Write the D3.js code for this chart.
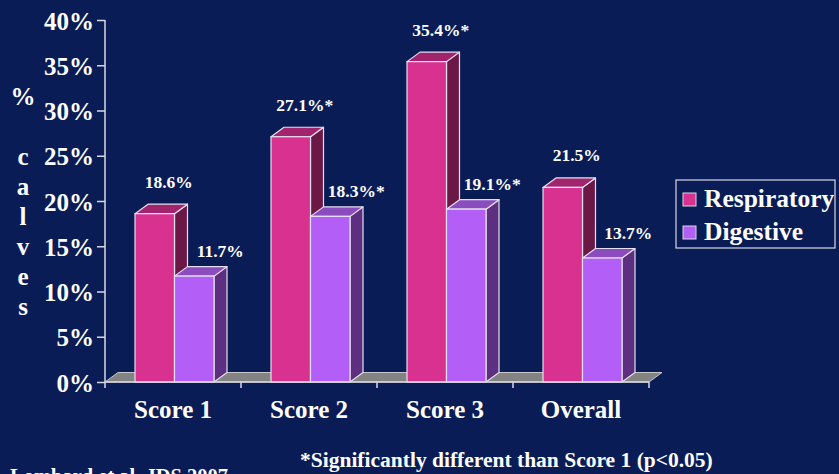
<!DOCTYPE html>
<html><head><meta charset="utf-8">
<script src="https://cdn.jsdelivr.net/npm/d3@7/dist/d3.min.js"></script>
<style>
html,body{margin:0;padding:0;background:#0a1c55;overflow:hidden;}
text{font-family:"Liberation Serif","Times New Roman",serif;font-weight:bold;fill:#ffffff;}
</style></head>
<body>
<svg id="c" width="839" height="474"></svg>
<script>
const categories = ["Score 1", "Score 2", "Score 3", "Overall"];
const series = ["Respiratory", "Digestive"];
const respiratory = [18.6, 27.1, 35.4, 21.5];
const digestive = [11.7, 18.3, 19.1, 13.7];
const respLabels = ["18.6%", "27.1%*", "35.4%*", "21.5%"];
const digLabels = ["11.7%", "18.3%*", "19.1%*", "13.7%"];
const yTicks = [0, 5, 10, 15, 20, 25, 30, 35, 40];
const yTitle = ["%", "", "c", "a", "l", "v", "e", "s"];
const footnote = "*Significantly different than Score 1 (p<0.05)";
const source = "Lombard et al. JDS 2007";

const svg = d3.select("#c");
svg.append("rect").attr("width", 839).attr("height", 474).attr("fill", "#0a1c55");

const x = d3.scaleBand().domain(categories).range([105, 649]);
const xs = d3.scaleBand().domain(series).range([30, 109]);
const y = d3.scaleLinear().domain([0, 40]).range([382, 20]);
const DX = 13, DY = -9.5;
const colors = {
  Respiratory: {front: "#d93190", top: "#a3246e", side: "#6c1846"},
  Digestive: {front: "#b35ef6", top: "#8b4cbf", side: "#5c2f80"}
};
const edge = "#e6e0ee";

// floor
const x0 = x.range()[0], x1 = x.range()[1];
svg.append("path")
  .attr("d", `M${x0},${y(0)} L${x0+DX},${y(0)+DY} L${x1+DX},${y(0)+DY} L${x1},${y(0)} Z`)
  .attr("fill", "#838383").attr("stroke", "#c8c8c8").attr("stroke-width", 1);

// bars
const data = categories.map((c, i) => ({c, vals: [respiratory[i], digestive[i]], labels: [respLabels[i], digLabels[i]]}));
data.forEach(d => {
  series.forEach((s, j) => {
    const v = d.vals[j];
    const bx = x(d.c) + xs(s), bw = xs.bandwidth();
    const top = y(v), bot = y(0);
    const g = svg.append("g");
    g.append("path").attr("d", `M${bx+bw},${top} L${bx+bw+DX},${top+DY} L${bx+bw+DX},${bot+DY} L${bx+bw},${bot} Z`)
      .attr("fill", colors[s].side).attr("stroke", edge).attr("stroke-width", 1.2).attr("stroke-linejoin", "round");
    g.append("path").attr("d", `M${bx},${top} L${bx+DX},${top+DY} L${bx+bw+DX},${top+DY} L${bx+bw},${top} Z`)
      .attr("fill", colors[s].top).attr("stroke", edge).attr("stroke-width", 1.2).attr("stroke-linejoin", "round");
    g.append("rect").attr("x", bx).attr("y", top).attr("width", bw).attr("height", bot - top)
      .attr("fill", colors[s].front).attr("stroke", edge).attr("stroke-width", 1.2);
  });
});

// value labels
data.forEach(d => {
  series.forEach((s, j) => {
    const v = d.vals[j];
    const bx = x(d.c) + xs(s), bw = xs.bandwidth();
    const off = j === 0 ? 14 : 26;
    const lift = j === 0 ? 26 : 19;
    svg.append("text").attr("x", bx + bw / 2 + off).attr("y", y(v) - lift)
      .attr("text-anchor", "middle").attr("font-size", 17.5).text(d.labels[j]);
  });
});

// y axis
const yAxis = d3.axisLeft(y).tickValues(yTicks).tickFormat(d => d + "%").tickSize(8).tickPadding(3);
const ga = svg.append("g").attr("transform", "translate(105,0)").call(yAxis);
ga.select(".domain").attr("stroke", "#d8d8e4").attr("stroke-width", 1.5).attr("d", `M0,${y(40)}V${y(0)}`);
ga.selectAll(".tick line").attr("stroke", "#d8d8e4").attr("stroke-width", 1.5);
ga.selectAll(".tick text").attr("font-size", 25).attr("fill", "#fff").attr("dy", "0.36em")
  .style("font-family", "'Liberation Serif',serif").style("font-weight", "bold");

// x axis line and ticks
svg.append("line").attr("x1", x0).attr("x2", x1).attr("y1", y(0)).attr("y2", y(0))
  .attr("stroke", "#d8d8e4").attr("stroke-width", 1.5);
const bounds = categories.map(c => x(c)).concat([x1]);
svg.selectAll(".xt").data(bounds).enter().append("line")
  .attr("x1", d => d).attr("x2", d => d).attr("y1", y(0)).attr("y2", y(0) + 6)
  .attr("stroke", "#d8d8e4").attr("stroke-width", 1.5);
svg.selectAll(".xl").data(categories).enter().append("text")
  .attr("x", d => x(d) + x.bandwidth() / 2).attr("y", 418)
  .attr("text-anchor", "middle").attr("font-size", 25).text(d => d);

// y title
svg.selectAll(".yt").data(yTitle).enter().append("text")
  .attr("x", 23).attr("y", (d, i) => 105 + i * 30)
  .attr("text-anchor", "middle").attr("font-size", 25).text(d => d);

// legend
svg.append("rect").attr("x", 676).attr("y", 180).attr("width", 159).attr("height", 68)
  .attr("fill", "none").attr("stroke", "#d8d8e4").attr("stroke-width", 1.2);
series.forEach((s, i) => {
  const ly = 193 + i * 33;
  svg.append("rect").attr("x", 683).attr("y", ly).attr("width", 13).attr("height", 13)
    .attr("fill", colors[s].front).attr("stroke", "#d8d8e4").attr("stroke-width", 1);
  svg.append("text").attr("x", 704).attr("y", ly + 14).attr("font-size", 25.5).text(s);
});

// footnote and source
svg.append("text").attr("x", 300).attr("y", 467).attr("font-size", 21.5).text(footnote);
svg.append("text").attr("x", 10).attr("y", 483).attr("font-size", 20.5).text(source);
</script>
</body></html>
